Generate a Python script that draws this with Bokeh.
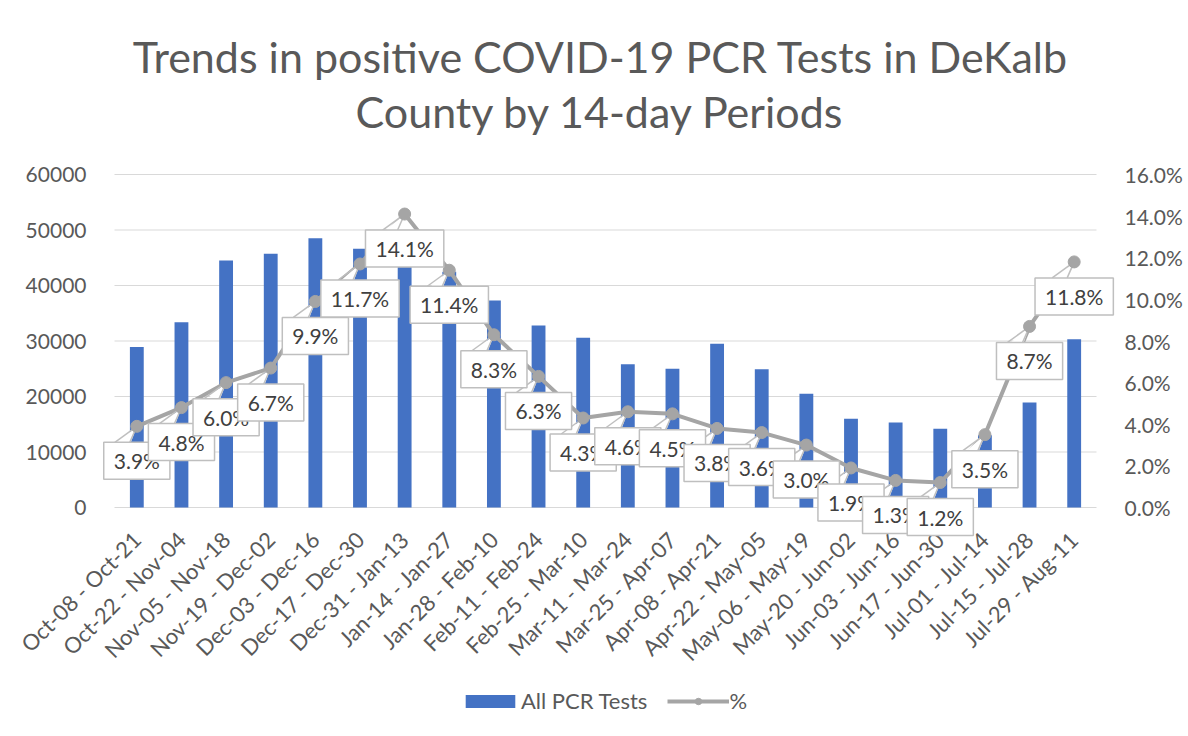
import math
from bokeh.plotting import figure
from bokeh.models import (Range1d, LinearAxis, FixedTicker, PrintfTickFormatter,
                          BasicTickFormatter, Legend, LegendItem, Label)
from bokeh.embed import file_html
from bokeh.resources import INLINE

# ---------------- data ----------------
periods = ["Oct-08 - Oct-21", "Oct-22 - Nov-04", "Nov-05 - Nov-18", "Nov-19 - Dec-02",
           "Dec-03 - Dec-16", "Dec-17 - Dec-30", "Dec-31 - Jan-13", "Jan-14 - Jan-27",
           "Jan-28 - Feb-10", "Feb-11 - Feb-24", "Feb-25 - Mar-10", "Mar-11 - Mar-24",
           "Mar-25 - Apr-07", "Apr-08 - Apr-21", "Apr-22 - May-05", "May-06 - May-19",
           "May-20 - Jun-02", "Jun-03 - Jun-16", "Jun-17 - Jun-30", "Jul-01 - Jul-14",
           "Jul-15 - Jul-28", "Jul-29 - Aug-11"]
all_pcr_tests = [28900, 33400, 44500, 45700, 48500, 46600, 44000, 42500, 37300, 32800,
                 30600, 25800, 25000, 29500, 24900, 20500, 16000, 15300, 14200, 13000,
                 18900, 30300]
pct_positive = [3.9, 4.8, 6.0, 6.7, 9.9, 11.7, 14.1, 11.4, 8.3, 6.3, 4.3, 4.6, 4.5,
                3.8, 3.6, 3.0, 1.9, 1.3, 1.2, 3.5, 8.7, 11.8]
left_ticks = [0, 10000, 20000, 30000, 40000, 50000, 60000]
right_ticks = [0, 2, 4, 6, 8, 10, 12, 14, 16]
title_lines = ["Trends in positive COVID-19 PCR Tests in DeKalb", "County by 14-day Periods"]
series_names = ["All PCR Tests", "%"]

# ---------------- style / layout (pixels) ----------------
FONT = "Lato"
BAR = "#4472C4"
LINEC = "#A5A5A5"
TXT = "#595959"
GRID = "#D9D9D9"
BOXC = "#BFBFBF"
W, H = 1186, 730
PLOT_L, PLOT_R = 114, 1096        # category area
TOP_Y, ZERO_Y = 174, 507          # top / zero gridline
TITLE_X, TITLE_Y1, TITLE_Y2 = 600, 56, 111
LEG_X, LEG_BOTTOM = 459, 714

n = len(periods)
xs = list(range(n))
cat_px = (PLOT_R - PLOT_L) / n
lpx = (ZERO_Y - TOP_Y) / (left_ticks[-1] - left_ticks[0])
rpx = (ZERO_Y - TOP_Y) / (right_ticks[-1] - right_ticks[0])


def xdata(px):
    return (px - PLOT_L) / cat_px - 0.5


def ydata(py):
    return left_ticks[-1] + (TOP_Y - py) / lpx


p = figure(width=W, height=H, title=None,
           x_range=Range1d(xdata(0), xdata(W)),
           y_range=Range1d(ydata(H), ydata(0)),
           output_backend="svg", toolbar_location=None,
           min_border_left=0, min_border_right=0, min_border_top=0, min_border_bottom=0)
p.extra_y_ranges = {"pct": Range1d(right_ticks[0] - (H - ZERO_Y) / rpx,
                                   right_ticks[-1] + TOP_Y / rpx)}
p.outline_line_color = None
p.background_fill_color = "white"
p.border_fill_color = "white"

# title lines
for txt, ty in ((title_lines[0], TITLE_Y1), (title_lines[1], TITLE_Y2)):
    p.add_layout(Label(x=xdata(TITLE_X), y=ydata(ty), text=txt, text_align="center",
                       text_baseline="middle", text_font=FONT, text_font_size="43px",
                       text_color=TXT))

# grid lines across the category area only
p.xgrid.visible = False
p.ygrid.visible = False
p.segment(x0=[-0.5] * len(left_ticks), x1=[n - 0.5] * len(left_ticks),
          y0=left_ticks, y1=left_ticks, line_color=GRID, line_width=1)

# category axis, pinned at zero
xa = p.xaxis[0]
xa.fixed_location = 0
xa.ticker = FixedTicker(ticks=xs)
xa.major_label_overrides = {i: periods[i] for i in xs}
xa.major_label_orientation = math.pi / 4
xa.major_label_text_font = FONT
xa.major_label_text_font_size = "22px"
xa.major_label_text_color = TXT
xa.axis_line_color = None
xa.major_tick_line_color = None
xa.minor_tick_line_color = None
xa.major_label_standoff = 22

ya = p.yaxis[0]
ya.fixed_location = -0.5
ya.ticker = FixedTicker(ticks=left_ticks)
ya.formatter = BasicTickFormatter(use_scientific=False)
ya.major_label_text_font = FONT
ya.major_label_text_font_size = "21px"
ya.major_label_text_color = TXT
ya.axis_line_color = None
ya.major_tick_line_color = None
ya.minor_tick_line_color = None
ya.major_label_standoff = 22

ra = LinearAxis(y_range_name="pct", fixed_location=n - 0.5,
                ticker=FixedTicker(ticks=right_ticks),
                formatter=PrintfTickFormatter(format="%.1f%%"))
ra.major_label_text_font = FONT
ra.major_label_text_font_size = "21px"
ra.major_label_text_color = TXT
ra.axis_line_color = None
ra.major_tick_line_color = None
ra.minor_tick_line_color = None
ra.major_label_standoff = 22
p.add_layout(ra, "right")

# bars and line
bars = p.vbar(x=xs, top=all_pcr_tests, width=0.31, fill_color=BAR, line_color=None)
line = p.line(xs, pct_positive, y_range_name="pct", line_color=LINEC, line_width=4)

# data label callouts: pointer wedge (glyph) + boxed label (annotation)
ux = 1 / cat_px
uy = 1 / rpx
OFF = 34.5       # px from point to label centre
TOP = 16         # px from point to box top
wx, wy = [], []
ex, ey = [], []
for i, v in enumerate(pct_positive):
    bl = i - 22 * ux
    br = i - 7 * ux
    wx.append([bl, i, br])
    wy.append([v - (TOP + 3) * uy, v, v - (TOP + 3) * uy])
    ex += [[bl, i], [i, br]]
    ey += [[v - TOP * uy, v], [v, v - TOP * uy]]
p.patches(wx, wy, fill_color="white", line_color=None, y_range_name="pct")
p.multi_line(ex, ey, line_color=BOXC, line_width=1.5, y_range_name="pct")

markers = p.scatter(xs, pct_positive, y_range_name="pct", size=12, fill_color=LINEC,
                    line_color=LINEC)

for i, v in enumerate(pct_positive):
    lab = Label(x=i, y=v - OFF * uy, y_range_name="pct", text=f"{v:.1f}%",
                text_align="center", text_baseline="middle", text_font=FONT,
                text_font_size="21px", text_color="#404040",
                background_fill_color="white", border_line_color=BOXC,
                border_line_width=1.5, padding=dict(left=10, right=10, top=6, bottom=6))
    p.add_layout(lab)

legend = Legend(items=[LegendItem(label=series_names[0], renderers=[bars]),
                       LegendItem(label=series_names[1], renderers=[line, markers])],
                orientation="horizontal", location=(LEG_X, H - LEG_BOTTOM),
                glyph_width=62, glyph_height=16, label_height=24, label_text_font=FONT,
                label_text_font_size="22px", label_text_color=TXT,
                label_standoff=0, spacing=20, padding=0, margin=0,
                border_line_color=None, background_fill_color=None)
p.add_layout(legend, "center")

open("out.html", "w").write(file_html(p, INLINE))
